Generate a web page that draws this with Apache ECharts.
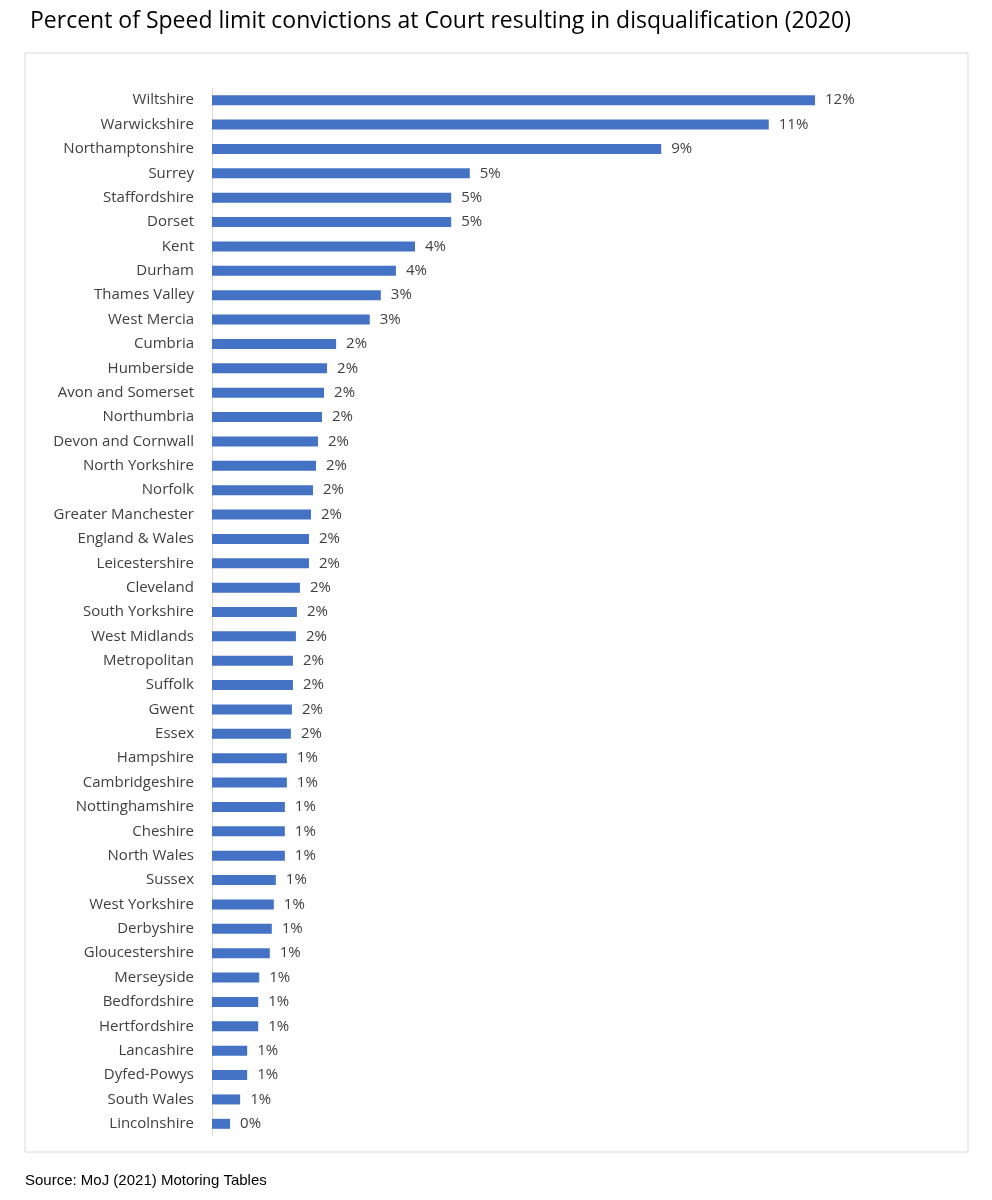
<!DOCTYPE html>
<html>
<head>
<meta charset="utf-8">
<script src="https://cdn.jsdelivr.net/npm/echarts@6/dist/echarts.min.js"></script>
<style>html,body{margin:0;padding:0;background:#fff}#c{width:992px;height:1200px}</style>
</head>
<body>
<div id="c"></div>
<script>
var categories = ['Wiltshire','Warwickshire','Northamptonshire','Surrey','Staffordshire','Dorset','Kent','Durham','Thames Valley','West Mercia','Cumbria','Humberside','Avon and Somerset','Northumbria','Devon and Cornwall','North Yorkshire','Norfolk','Greater Manchester','England & Wales','Leicestershire','Cleveland','South Yorkshire','West Midlands','Metropolitan','Suffolk','Gwent','Essex','Hampshire','Cambridgeshire','Nottinghamshire','Cheshire','North Wales','Sussex','West Yorkshire','Derbyshire','Gloucestershire','Merseyside','Bedfordshire','Hertfordshire','Lancashire','Dyfed-Powys','South Wales','Lincolnshire'];
var values = [12.0,11.08,8.94,5.13,4.76,4.76,4.04,3.66,3.36,3.14,2.47,2.29,2.23,2.19,2.11,2.07,2.01,1.97,1.93,1.93,1.75,1.69,1.67,1.61,1.61,1.59,1.57,1.49,1.49,1.45,1.45,1.45,1.27,1.23,1.19,1.15,0.94,0.92,0.92,0.70,0.70,0.56,0.36];

var chart = echarts.init(document.getElementById('c'), null, {renderer: 'canvas'});
chart.setOption({
    animation: false,
    title: {
        text: 'Percent of Speed limit convictions at Court resulting in disqualification (2020)',
        left: 25, top: 5,
        textStyle: {fontFamily: 'Open Sans', fontSize: 23, fontWeight: 'normal', color: '#000'}
    },
    graphic: [
        {type: 'rect', shape: {x: 25, y: 53, width: 943, height: 1099},
         style: {fill: 'none', stroke: '#d9d9d9', lineWidth: 1}},
        {type: 'text', left: 25, top: 1173,
         style: {text: 'Source: MoJ (2021) Motoring Tables', fontFamily: 'Arial', fontSize: 15, fill: '#000'}}
    ],
    grid: {left: 212, right: 177, top: 88, bottom: 64, containLabel: false},
    xAxis: {type: 'value', min: 0, max: 12, show: false},
    yAxis: {
        type: 'category', data: categories, inverse: true,
        axisLine: {show: true, lineStyle: {color: '#d9d9d9'}},
        axisTick: {show: false},
        axisLabel: {margin: 18, fontFamily: 'Open Sans', fontSize: 15, color: '#404040'}
    },
    series: [{
        type: 'bar', data: values, barWidth: 10,
        itemStyle: {color: '#4472c4'},
        label: {
            show: true, position: 'right', distance: 10,
            fontFamily: 'Open Sans', fontSize: 15, color: '#404040',
            formatter: function (p) { return Math.round(p.value) + '%'; }
        }
    }]
});
</script>
</body>
</html>
